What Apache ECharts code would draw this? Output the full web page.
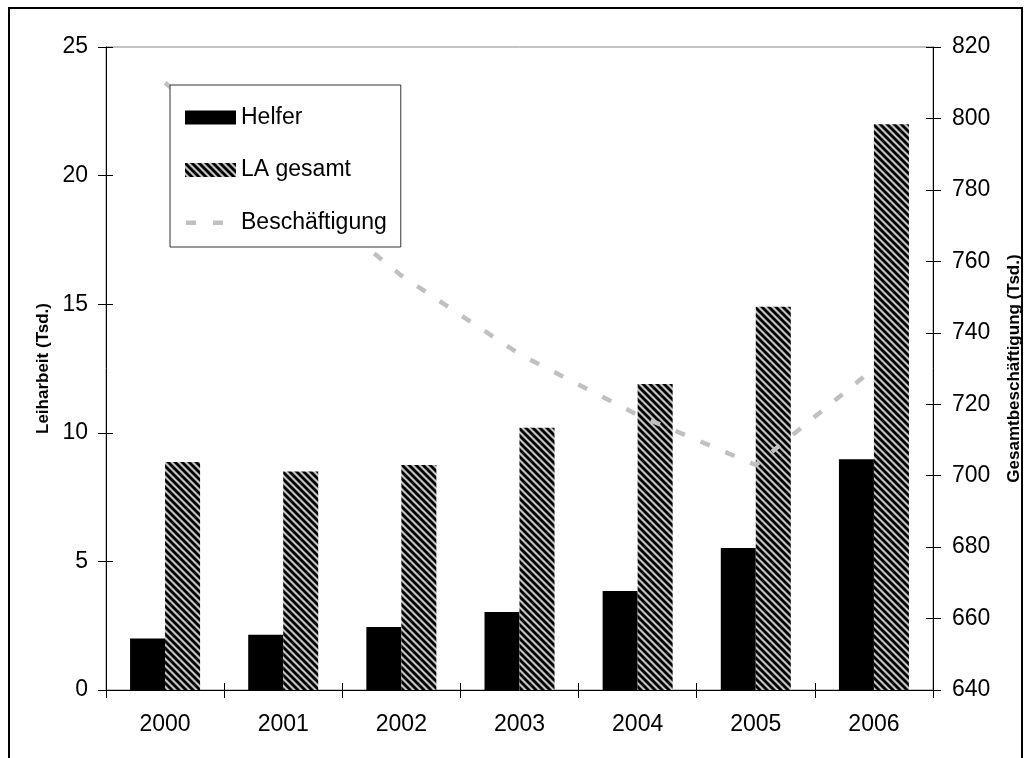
<!DOCTYPE html>
<html>
<head>
<meta charset="utf-8">
<script src="https://cdn.jsdelivr.net/npm/echarts@6/dist/echarts.min.js"></script>
<style>
html,body{margin:0;padding:0;background:#fff;}
#chart{width:1031px;height:758px;}
</style>
</head>
<body>
<div id="chart"></div>
<script>
const years = ['2000','2001','2002','2003','2004','2005','2006'];
const helfer = [2.0, 2.15, 2.45, 3.03, 3.85, 5.52, 8.97];
const laGesamt = [8.86, 8.5, 8.75, 10.2, 11.9, 14.9, 22.0];
const beschaeftigung = [810, 783, 756, 734, 717, 703, 730];

function hatch() {
  const s = 7;
  const c = document.createElement('canvas');
  c.width = s; c.height = s;
  const g = c.getContext('2d');
  g.fillStyle = '#c4c4c4';
  g.fillRect(0, 0, s, s);
  g.strokeStyle = '#000';
  g.lineWidth = 2.8;
  for (const x0 of [-s, 0, s]) {
    g.beginPath();
    g.moveTo(x0 - 1, -1);
    g.lineTo(x0 + s + 1, s + 1);
    g.stroke();
  }
  return c;
}
const hatchFill = { image: hatch(), repeat: 'repeat' };

const font = 'Liberation Sans, Arial, sans-serif';
const chart = echarts.init(document.getElementById('chart'));
chart.setOption({
  animation: false,
  backgroundColor: '#fff',
  textStyle: { fontFamily: font },
  grid: { show: true, borderColor: '#888', borderWidth: 1, backgroundColor: 'transparent',
          left: 106, right: 94, top: 47, bottom: 68 },
  legend: {
    orient: 'vertical',
    left: 170, top: 85,
    padding: [21, 14, 13, 15],
    itemGap: 29.5,
    itemWidth: 51, itemHeight: 14,
    backgroundColor: '#fff',
    borderColor: '#333', borderWidth: 1,
    textStyle: { fontSize: 23, color: '#000', fontFamily: font },
    data: [
      { name: 'Helfer', icon: 'rect' },
      { name: 'LA gesamt', icon: 'rect' },
      { name: 'Beschäftigung', icon: 'path://M1,5h10v4.4h-10zM28,5h10v4.4h-10zM0,0h0.01v0.01zM51,14h-0.01v-0.01z' }
    ]
  },
  xAxis: [{
    type: 'category', data: years,
    axisLine: { lineStyle: { color: '#000', width: 1 } },
    axisTick: { show: true, length: 8, lineStyle: { color: '#000' } },
    axisLabel: { fontSize: 23, color: '#000', margin: 23, fontFamily: font }
  }, {
    type: 'category', data: years, position: 'bottom',
    axisLine: { show: false },
    axisTick: { show: true, inside: true, length: 7, lineStyle: { color: '#000' } },
    axisLabel: { show: false }
  }],
  yAxis: [{
    type: 'value', min: 0, max: 25, interval: 5, position: 'left',
    name: 'Leiharbeit (Tsd.)', nameLocation: 'middle', nameGap: 54, nameRotate: 90,
    nameTextStyle: { fontSize: 17, fontWeight: 'bold', color: '#000', fontFamily: font },
    axisLine: { show: true, lineStyle: { color: '#000' } },
    axisTick: { show: true, length: 8, lineStyle: { color: '#000' } },
    axisLabel: { fontSize: 23, color: '#000', margin: 18, fontFamily: font },
    splitLine: { show: false }
  }, {
    type: 'value', min: 640, max: 820, interval: 20, position: 'right',
    name: 'Gesamtbeschäftigung (Tsd.)', nameLocation: 'middle', nameGap: 73, nameRotate: 90,
    nameTextStyle: { fontSize: 17, fontWeight: 'bold', color: '#000', fontFamily: font },
    axisLine: { show: true, lineStyle: { color: '#000' } },
    axisTick: { show: true, length: 8, lineStyle: { color: '#000' } },
    axisLabel: { fontSize: 23, color: '#000', margin: 19, fontFamily: font },
    splitLine: { show: false }
  }, {
    type: 'value', min: 0, max: 25, interval: 5, position: 'left',
    axisLine: { show: false },
    axisTick: { show: true, inside: true, length: 7, lineStyle: { color: '#000' } },
    axisLabel: { show: false }, splitLine: { show: false }
  }, {
    type: 'value', min: 640, max: 820, interval: 20, position: 'right',
    axisLine: { show: false },
    axisTick: { show: true, inside: true, length: 7, lineStyle: { color: '#000' } },
    axisLabel: { show: false }, splitLine: { show: false }
  }],
  series: [{
    name: 'Helfer', type: 'bar', data: helfer,
    barWidth: 35, barGap: '0%',
    itemStyle: { color: '#000' }
  }, {
    name: 'LA gesamt', type: 'bar', data: laGesamt,
    barWidth: 35, barGap: '0%',
    itemStyle: { color: hatchFill }
  }, {
    name: 'Beschäftigung', type: 'line', yAxisIndex: 1, data: beschaeftigung,
    symbol: 'none', z: 3,
    lineStyle: { color: '#c0c0c0', width: 4.5, type: [10, 17], cap: 'butt' },
    itemStyle: { color: '#c0c0c0' }
  }],
  graphic: [{
    type: 'rect', z: 100, silent: true,
    shape: { x: 9, y: 8, width: 1013, height: 780 },
    style: { fill: 'none', stroke: '#000', lineWidth: 2 }
  }]
});
</script>
</body>
</html>
